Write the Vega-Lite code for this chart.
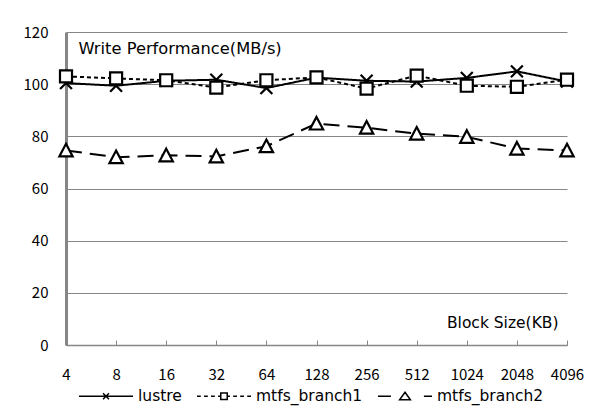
{
  "$schema": "https://vega.github.io/schema/vega-lite/v6.json",
  "width": 501,
  "height": 313,
  "autosize": "none",
  "padding": {"left": 66, "top": 32, "right": 38, "bottom": 72},
  "background": "white",
  "config": {
    "font": "DejaVu Sans",
    "view": {"stroke": null},
    "axis": {"labelFont": "Noto Sans CJK KR", "titleFont": "DejaVu Sans", "labelColor": "black", "titleColor": "black", "labelFontSize": 15, "titleFontSize": 15.5, "titleFontWeight": "normal"},
    "legend": {"labelFont": "DejaVu Sans", "labelFontSize": 15.5, "labelColor": "black"}
  },
  "data": {
    "values": [
      {"block": "4", "series": "lustre", "mbs": 100.4},
      {"block": "8", "series": "lustre", "mbs": 99.4},
      {"block": "16", "series": "lustre", "mbs": 101.3},
      {"block": "32", "series": "lustre", "mbs": 101.7},
      {"block": "64", "series": "lustre", "mbs": 98.5},
      {"block": "128", "series": "lustre", "mbs": 102.5},
      {"block": "256", "series": "lustre", "mbs": 101.3},
      {"block": "512", "series": "lustre", "mbs": 101.0},
      {"block": "1024", "series": "lustre", "mbs": 102.4},
      {"block": "2048", "series": "lustre", "mbs": 104.9},
      {"block": "4096", "series": "lustre", "mbs": 101.0},
      {"block": "4", "series": "mtfs_branch1", "mbs": 103.0},
      {"block": "8", "series": "mtfs_branch1", "mbs": 102.2},
      {"block": "16", "series": "mtfs_branch1", "mbs": 101.5},
      {"block": "32", "series": "mtfs_branch1", "mbs": 98.7},
      {"block": "64", "series": "mtfs_branch1", "mbs": 101.5},
      {"block": "128", "series": "mtfs_branch1", "mbs": 102.6},
      {"block": "256", "series": "mtfs_branch1", "mbs": 98.3},
      {"block": "512", "series": "mtfs_branch1", "mbs": 103.3},
      {"block": "1024", "series": "mtfs_branch1", "mbs": 99.4},
      {"block": "2048", "series": "mtfs_branch1", "mbs": 99.0},
      {"block": "4096", "series": "mtfs_branch1", "mbs": 101.7},
      {"block": "4", "series": "mtfs_branch2", "mbs": 74.6},
      {"block": "8", "series": "mtfs_branch2", "mbs": 72.0},
      {"block": "16", "series": "mtfs_branch2", "mbs": 72.7},
      {"block": "32", "series": "mtfs_branch2", "mbs": 72.3},
      {"block": "64", "series": "mtfs_branch2", "mbs": 76.2},
      {"block": "128", "series": "mtfs_branch2", "mbs": 84.9},
      {"block": "256", "series": "mtfs_branch2", "mbs": 83.3},
      {"block": "512", "series": "mtfs_branch2", "mbs": 81.0},
      {"block": "1024", "series": "mtfs_branch2", "mbs": 79.8},
      {"block": "2048", "series": "mtfs_branch2", "mbs": 75.3},
      {"block": "4096", "series": "mtfs_branch2", "mbs": 74.6}
    ]
  },
  "encoding": {
    "x": {
      "field": "block", "type": "ordinal", "sort": null,
      "scale": {"type": "point", "padding": 0},
      "axis": {
        "title": "Block Size(KB)", "titleX": 492, "titleY": -23, "titleAlign": "right", "titleBaseline": "middle", "titleAngle": 0,
        "labelAngle": 0, "labelPadding": 34, "labelBaseline": "middle",
        "ticks": true, "tickSize": -5, "tickColor": "#868686", "tickWidth": 1,
        "domainColor": "#868686", "domainWidth": 1.5, "grid": false
      }
    },
    "y": {
      "field": "mbs", "type": "quantitative",
      "scale": {"domain": [0, 120], "nice": false, "zero": true},
      "axis": {
        "values": [0, 20, 40, 60, 80, 100, 120],
        "title": "Write Performance(MB/s)", "titleX": 12, "titleY": 16, "titleAngle": 0, "titleAlign": "left", "titleBaseline": "middle", "titleFontSize": 16.3,
        "ticks": false, "labelPadding": 18, "labelBaseline": "middle",
        "grid": true, "gridColor": "#868686", "gridWidth": 1,
        "domainColor": "#868686", "domainWidth": 3
      }
    }
  },
  "resolve": {"scale": {"shape": "independent"}, "legend": {"shape": "independent"}},
  "layer": [
    {
      "mark": {"type": "line", "strokeWidth": 2, "color": "black"},
      "encoding": {
        "detail": {"field": "series", "type": "nominal"},
        "strokeDash": {
          "field": "series", "type": "nominal",
          "scale": {"domain": ["lustre", "mtfs_branch1", "mtfs_branch2"], "range": [[1, 0], [4, 3], [16, 8]]},
          "legend": null
        }
      }
    },
    {
      "mark": {"type": "point", "filled": false, "fill": "white", "stroke": "black", "strokeWidth": 2.2, "opacity": 1, "size": 196},
      "encoding": {
        "shape": {
          "field": "series", "type": "nominal",
          "scale": {"domain": ["lustre", "mtfs_branch1", "mtfs_branch2"], "range": ["M-0.85,-0.85L0.85,0.85M-0.85,0.85L0.85,-0.85", "M-0.86,-0.86H0.86V0.86H-0.86Z", "M0,-0.95L0.95,0.85H-0.95Z"]},
          "legend": null
        }
      }
    },
    {
      "mark": {"type": "point", "filled": false, "stroke": "black", "opacity": 0},
      "encoding": {
        "shape": {
          "field": "series", "type": "nominal",
          "scale": {"domain": ["lustre", "mtfs_branch1", "mtfs_branch2"], "range": [
            "M-1,0H1M-0.11,-0.11L0.11,0.11M-0.11,0.11L0.11,-0.11",
            "M-1,0H-0.86M-0.74,0H-0.6M-0.48,0H-0.34M-0.22,0H-0.12M-0.12,-0.12H0.12V0.12H-0.12ZM0.12,0H0.22M0.34,0H0.48M0.6,0H0.74M0.86,0H1",
            "M-1,0H-0.52M0,-0.15L0.2,0.13H-0.2ZM0.7,0H1"
          ]},
          "legend": {
            "title": null, "orient": "none", "direction": "horizontal", "legendX": 12, "legendY": 336, "padding": 0,
            "symbolSize": 2916, "symbolStrokeWidth": 1.5, "symbolStrokeColor": "black", "symbolFillColor": "transparent", "symbolOpacity": 1,
            "columnPadding": 12, "labelOffset": 4
          }
        }
      }
    }
  ]
}
